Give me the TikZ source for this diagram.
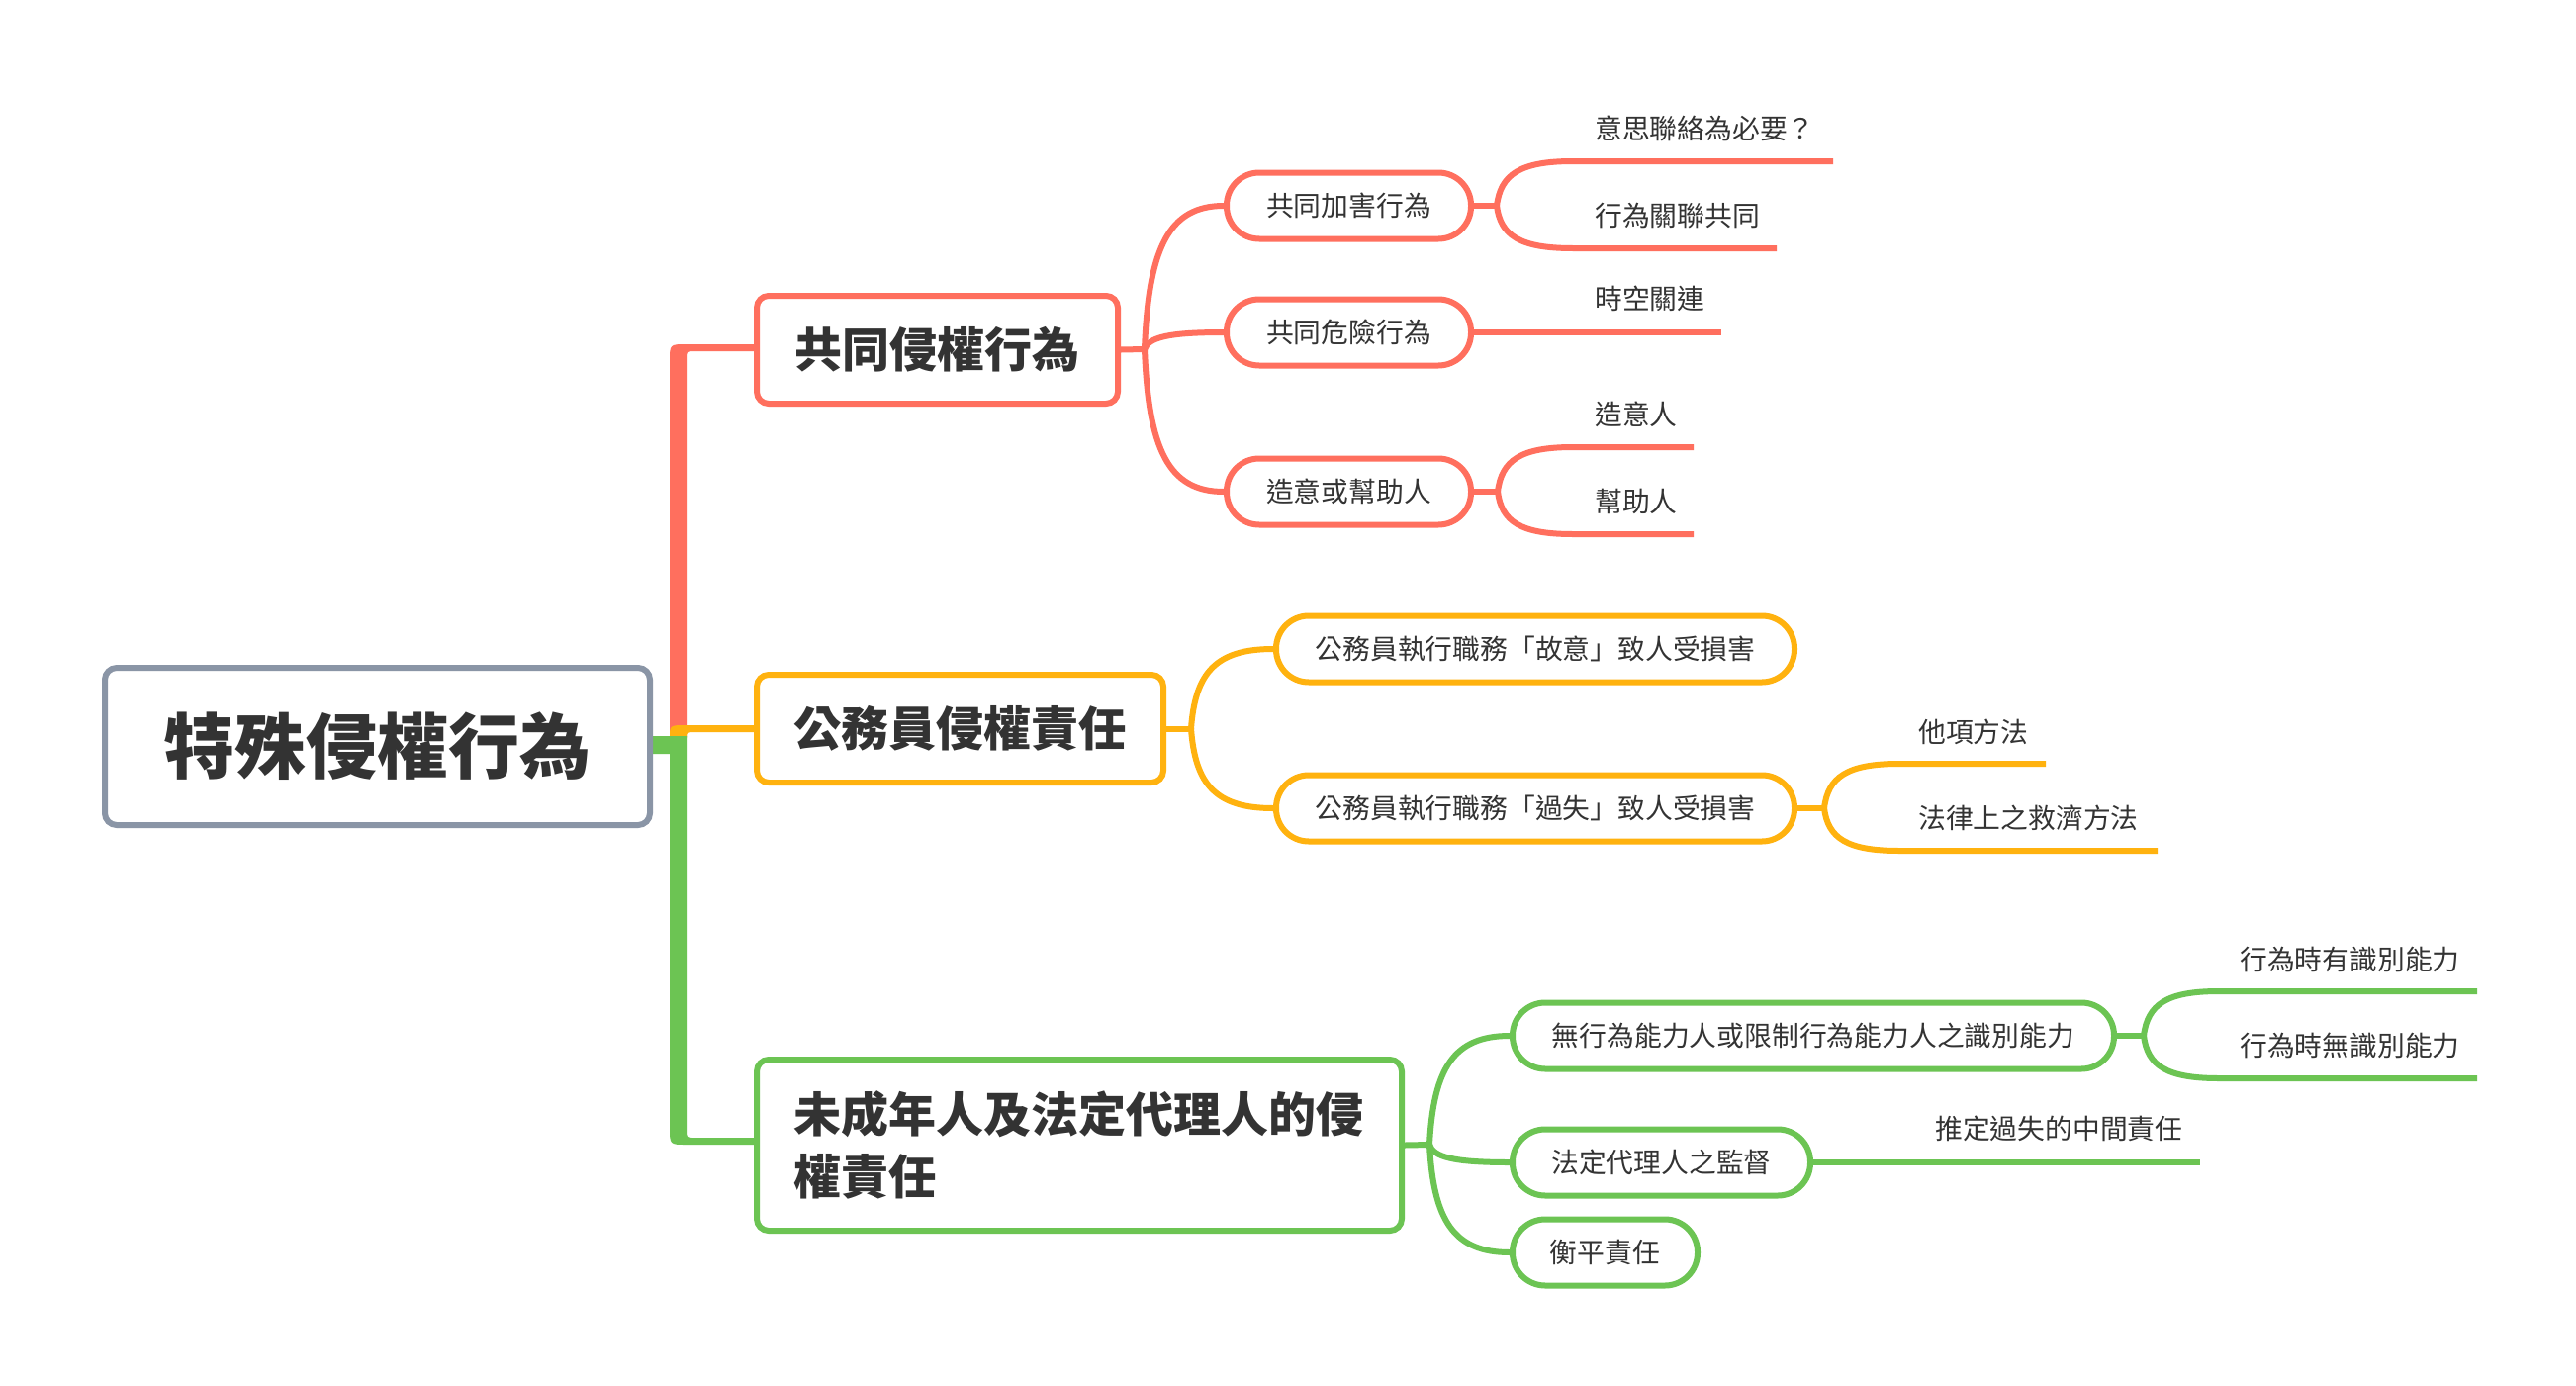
\documentclass[tikz,border=0pt]{standalone}
\usepackage{fontspec}
\newfontfamily\cjk{Noto Sans CJK TC}
\usetikzlibrary{calc}
\definecolor{cred}{HTML}{FF6F5E}
\definecolor{corg}{HTML}{FFB20F}
\definecolor{cgrn}{HTML}{6CC453}
\definecolor{cgray}{HTML}{8A95A6}
\definecolor{ctxt}{HTML}{333333}
\pgfdeclarelayer{bg}
\pgfsetlayers{bg,main}
\newcommand\bcurve[4]{\draw[conn,#1] let \p1=(#2),\p2=(#3) in (\p1) .. controls ({\x1+0.05*(\x2-\x1)},{\y1+0.7*(\y2-\y1)}) and ({\x1+0.3*(\x2-\x1)},\y2) .. (\p2) #4;}
\begin{document}
\begin{tikzpicture}[x={(1pt,0)},y={(0,-1pt)},
 rootbox/.style={draw=cgray, line width=6pt, fill=white, rounded corners=12pt, minimum width=551pt, minimum height=159pt, inner sep=0pt, font=\cjk\bfseries\fontsize{72}{84}\selectfont, text=ctxt},
 mainbox/.style={line width=6pt, fill=white, rounded corners=12pt, inner sep=0pt, font=\cjk\bfseries\fontsize{48}{63}\selectfont, text=ctxt},
 pill/.style={line width=6pt, fill=white, rounded corners=33pt, minimum height=67pt, inner sep=0pt, font=\cjk\fontsize{27.8}{33}\selectfont, text=ctxt},
 leaf/.style={anchor=west, inner sep=0pt, font=\cjk\fontsize{27.8}{33}\selectfont, text=ctxt},
 conn/.style={line width=6pt, line cap=butt},
 stem/.style={line width=6pt, line cap=round},
]
\useasboundingbox (0,0) rectangle (2604,1400);

% nodes
\node[rootbox] (root) at (381.5,754.5) {特殊侵權行為};
\node[mainbox, draw=cred, minimum width=365pt, minimum height=109pt] (b1) at (947.5,353.5) {共同侵權行為};
\node[mainbox, draw=corg, minimum width=411pt, minimum height=109pt] (b2) at (970.5,736.5) {公務員侵權責任};
\node[mainbox, draw=cgrn, text width=578pt, align=left, inner xsep=37pt, minimum height=173pt] (b3) at (1091,1157.5) {未成年人及法定代理人的侵\\權責任};

\node[pill, draw=cred, minimum width=247pt] (p11) at (1363.5,208) {共同加害行為};
\node[pill, draw=cred, minimum width=247pt] (p12) at (1363.5,336) {共同危險行為};
\node[pill, draw=cred, minimum width=247pt] (p13) at (1363.5,497) {造意或幫助人};
\node[pill, draw=corg, minimum width=524pt] (p21) at (1552,656) {公務員執行職務「故意」致人受損害};
\node[pill, draw=corg, minimum width=524pt] (p22) at (1552,817) {公務員執行職務「過失」致人受損害};
\node[pill, draw=cgrn, minimum width=608pt] (p31) at (1833,1047) {無行為能力人或限制行為能力人之識別能力};
\node[pill, draw=cgrn, minimum width=301pt] (p32) at (1679.5,1175) {法定代理人之監督};
\node[pill, draw=cgrn, minimum width=187pt] (p33) at (1622.5,1266) {衡平責任};

\node[leaf] (l111) at (1612,130) {意思聯絡為必要？};
\node[leaf] (l112) at (1612,218) {行為關聯共同};
\node[leaf] (l12) at (1612,302) {時空關連};
\node[leaf] (l131) at (1612,419) {造意人};
\node[leaf] (l132) at (1612,507) {幫助人};
\node[leaf] (l221) at (1939,740) {他項方法};
\node[leaf] (l222) at (1939,827) {法律上之救濟方法};
\node[leaf] (l311) at (2264,970) {行為時有識別能力};
\node[leaf] (l312) at (2264,1057) {行為時無識別能力};
\node[leaf] (l32) at (1956,1141) {推定過失的中間責任};

% junctions and leaf line coordinates
\coordinate (J1) at (1157,353);
\coordinate (J2) at (1204,736.5);
\coordinate (J3) at (1445,1157);
\coordinate (K11) at (1513,208);
\coordinate (K13) at (1514,497);
\coordinate (K22) at (1844,817);
\coordinate (K31) at (2167,1047);
\coordinate (S111) at (1590,163); \coordinate (E111) at (1853,163);
\coordinate (S112) at (1590,251); \coordinate (E112) at (1796,251);
\coordinate (E12) at (1740,336);
\coordinate (S131) at (1590,452); \coordinate (E131) at (1712,452);
\coordinate (S132) at (1590,540); \coordinate (E132) at (1712,540);
\coordinate (S221) at (1920,772); \coordinate (E221) at (2068,772);
\coordinate (S222) at (1920,860); \coordinate (E222) at (2181,860);
\coordinate (S311) at (2243,1002); \coordinate (E311) at (2504,1002);
\coordinate (S312) at (2243,1090); \coordinate (E312) at (2504,1090);
\coordinate (E32) at (2224,1175);

\begin{pgfonlayer}{bg}
\fill[white] (0,0) rectangle (2604,1400);
% trunk from root
\fill[cred] (677,745) -- (677,365) .. controls (677,348) .. (694,348) -- (770,348) -- (770,355) -- (702,355) .. controls (694,355) .. (694,363) -- (694,745) -- cycle;
\fill[corg] (677,746) .. controls (677,733) .. (694,733) -- (770,733) -- (770,740) -- (702,740) .. controls (694,740) .. (694,746) -- cycle;
\fill[cgrn] (655,744) -- (694,744) -- (694,1142) .. controls (694,1150) .. (702,1150) -- (770,1150) -- (770,1157) -- (694,1157) .. controls (677,1157) .. (677,1140) -- (677,762) -- (655,762) -- cycle;

% box to junction stems
\draw[stem,cred] (b1.east) -- (J1);
\draw[stem,corg] (b2.east) -- (J2);
\draw[stem,cgrn] (b3.east) -- (J3);
\draw[stem,cred] (p11.east) -- (K11);
\draw[stem,cred] (p13.east) -- (K13);
\draw[stem,corg] (p22.east) -- (K22);
\draw[stem,cgrn] (p31.east) -- (K31);
\draw[conn,cred] (p12.east) -- (E12);
\draw[conn,cgrn] (p32.east) -- (E32);

% branch curves
\bcurve{cred}{J1}{p11.west}{}
\bcurve{cred}{J1}{p12.west}{}
\bcurve{cred}{J1}{p13.west}{}
\bcurve{corg}{J2}{p21.west}{}
\bcurve{corg}{J2}{p22.west}{}
\bcurve{cgrn}{J3}{p31.west}{}
\bcurve{cgrn}{J3}{p32.west}{}
\bcurve{cgrn}{J3}{p33.west}{}

% leaf curves
\bcurve{cred}{K11}{S111}{-- (E111)}
\bcurve{cred}{K11}{S112}{-- (E112)}
\bcurve{cred}{K13}{S131}{-- (E131)}
\bcurve{cred}{K13}{S132}{-- (E132)}
\bcurve{corg}{K22}{S221}{-- (E221)}
\bcurve{corg}{K22}{S222}{-- (E222)}
\bcurve{cgrn}{K31}{S311}{-- (E311)}
\bcurve{cgrn}{K31}{S312}{-- (E312)}
\end{pgfonlayer}
\end{tikzpicture}
\end{document}
